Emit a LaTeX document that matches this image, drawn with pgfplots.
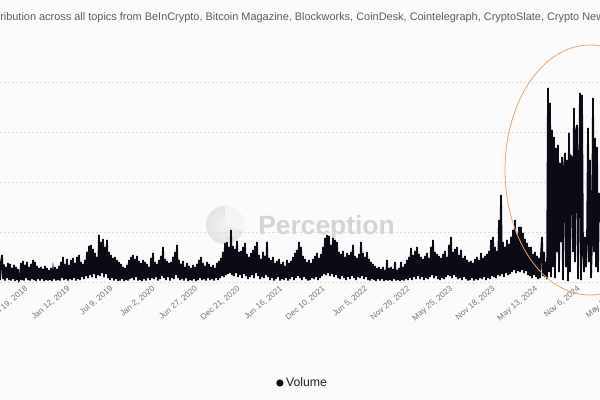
\documentclass[border=0pt]{standalone}
\usepackage{fontspec}
\setmainfont{Liberation Sans}
\usepackage{pgfplots}
\pgfplotsset{compat=1.18}
\definecolor{bg}{HTML}{FBFBFC}
\definecolor{gridc}{HTML}{DCDCDE}
\definecolor{tickc}{HTML}{74747A}
\definecolor{ttl}{HTML}{5C5C60}
\definecolor{ln}{HTML}{0B0B16}
\definecolor{circ}{HTML}{E8A56B}
\definecolor{wm}{HTML}{D4D4D6}
\begin{document}
\begin{tikzpicture}
\path[use as bounding box] (0pt,0pt) rectangle (450pt,300pt);
\clip (0pt,0pt) rectangle (450pt,300pt);
\fill[bg] (0pt,0pt) rectangle (450pt,300pt);
% title
\node[anchor=base west, inner sep=0pt, text=ttl, font=\fontsize{8.2}{9}\selectfont] at (0pt,284.25pt)
 {\llap{Volume dist}ribution across all topics from BeInCrypto, Bitcoin Magazine, Blockworks, CoinDesk, Cointelegraph, CryptoSlate, Crypto News};
% watermark
\shade[inner color=gray!10, outer color=gray!22] (168.75pt,131.25pt) circle (14.25pt);
\fill[gray!8] (168.75pt,131.25pt) -- (168.75pt,145.5pt) arc (90:-20:14.25pt) -- cycle;
\node[anchor=base west, inner sep=0pt, text=wm, font=\fontsize{19.8}{22}\selectfont\bfseries] at (193.5pt,123.75pt) {Perception};
\begin{axis}[
  at={(0pt,88.5pt)}, anchor=south west,
  scale only axis, width=480pt, height=187.5pt,
  xmin=0, xmax=640, ymin=0, ymax=500,
  axis line style={draw=none},
  major tick length=0pt,
  ytick={0,100,200,300,400}, yticklabels={},
  ymajorgrids, grid style={gridc, line width=0.5pt, dash pattern=on 1.5pt off 1.5pt},
  xtick={24.5,67,109.5,152,194.5,237,279.5,322,364.5,407,449.5,492,534.5,577,619.5},
  xticklabels={{Jul 19, 2018},{Jan 12, 2019},{Jul 9, 2019},{Jan 2, 2020},{Jun 27, 2020},{Dec 21, 2020},{Jun 16, 2021},{Dec 10, 2021},{Jun 5, 2022},{Nov 29, 2022},{May 25, 2023},{Nov 18, 2023},{May 13, 2024},{Nov 6, 2024},{May 2, 2025}},
  xticklabel style={rotate=40, anchor=north east, inner sep=1.5pt, text=tickc, font=\fontsize{6.1}{7}\selectfont},
  legend style={at={(axis cs:303,-202)}, anchor=center, draw=none, fill=none, font=\fontsize{9.2}{10}\selectfont, text=black!88},
  legend image code/.code={\fill[ln] (0pt,0pt) circle (2pt);},
]
\addplot[ln, line width=1.3pt] table[row sep=\\, header=false, x expr=\coordindex, y index=0] {
4\\40\\54\\6\\35\\3\\30\\8\\38\\4\\
36\\3\\28\\6\\34\\2\\30\\4\\26\\3\\
6\\38\\4\\42\\3\\34\\8\\40\\4\\30\\
3\\36\\6\\44\\4\\40\\2\\32\\6\\28\\
3\\30\\6\\26\\2\\32\\4\\28\\3\\24\\
4\\28\\2\\24\\6\\30\\3\\26\\4\\32\\
3\\40\\8\\50\\4\\36\\6\\46\\3\\34\\
6\\44\\4\\48\\8\\38\\3\\50\\6\\54\\
4\\40\\10\\36\\6\\44\\12\\60\\8\\72\\
14\\74\\10\\66\\16\\58\\8\\50\\14\\94\\
12\\80\\18\\86\\10\\70\\16\\84\\8\\60\\
4\\54\\8\\48\\3\\50\\6\\44\\2\\40\\
3\\36\\6\\30\\2\\28\\4\\34\\3\\44\\
6\\50\\8\\54\\4\\46\\10\\52\\3\\42\\
4\\38\\2\\44\\6\\40\\3\\36\\8\\30\\
4\\48\\8\\58\\6\\40\\10\\36\\3\\44\\
6\\52\\12\\70\\8\\46\\4\\42\\10\\38\\
3\\40\\8\\50\\6\\60\\14\\74\\8\\44\\
4\\36\\6\\42\\3\\30\\8\\38\\2\\32\\
4\\28\\3\\34\\6\\30\\2\\36\\4\\44\\
8\\50\\4\\38\\6\\32\\3\\40\\8\\36\\
4\\30\\6\\34\\3\\28\\8\\38\\4\\42\\
8\\48\\12\\60\\10\\78\\14\\80\\16\\70\\
18\\104\\14\\72\\12\\66\\18\\82\\10\\60\\
14\\62\\8\\70\\16\\78\\12\\56\\6\\50\\
10\\58\\14\\64\\8\\72\\18\\80\\12\\54\\
6\\46\\10\\60\\8\\52\\14\\80\\10\\48\\
4\\44\\8\\50\\3\\38\\6\\42\\10\\46\\
3\\36\\6\\40\\4\\32\\8\\44\\3\\38\\
6\\42\\10\\50\\4\\58\\8\\64\\12\\80\\
8\\70\\4\\52\\10\\46\\6\\40\\3\\44\\
4\\38\\8\\46\\6\\52\\10\\58\\4\\48\\
8\\56\\12\\70\\16\\88\\14\\94\\18\\92\\
12\\74\\16\\88\\10\\84\\14\\80\\8\\60\\
6\\56\\12\\62\\8\\50\\4\\58\\10\\54\\
6\\60\\12\\74\\8\\52\\4\\48\\10\\56\\
8\\80\\12\\58\\6\\50\\10\\60\\4\\46\\
3\\40\\6\\36\\4\\32\\2\\28\\6\\30\\
3\\26\\6\\30\\2\\24\\4\\44\\3\\28\\
4\\30\\2\\26\\6\\40\\3\\24\\4\\28\\
2\\40\\4\\30\\3\\36\\6\\44\\4\\50\\
8\\68\\4\\54\\10\\62\\6\\70\\12\\56\\
6\\50\\10\\46\\4\\52\\8\\58\\6\\48\\
10\\70\\14\\84\\8\\60\\12\\56\\6\\52\\
4\\48\\8\\56\\6\\62\\10\\50\\14\\74\\
12\\90\\8\\60\\14\\66\\10\\70\\6\\54\\
8\\64\\4\\48\\10\\52\\6\\44\\3\\40\\
4\\42\\8\\38\\3\\46\\6\\50\\4\\44\\
8\\58\\6\\48\\10\\52\\4\\56\\8\\62\\
6\\84\\12\\90\\10\\70\\8\\62\\14\\124\\
12\\174\\16\\80\\10\\70\\18\\84\\14\\76\\
16\\90\\20\\104\\24\\124\\18\\96\\22\\110\\
20\\110\\24\\98\\18\\86\\22\\78\\14\\70\\
12\\70\\8\\56\\14\\60\\10\\52\\6\\48\\
8\\56\\90\\12\\60\\10\\40\\6\\388\\20\\
358\\10\\304\\30\\290\\8\\268\\60\\274\\20\\
238\\80\\250\\4\\230\\258\\30\\244\\2\\298\\
20\\252\\250\\60\\348\\40\\300\\314\\6\\200\\
378\\4\\374\\60\\20\\90\\30\\80\\308\\40\\
244\\8\\80\\368\\60\\288\\30\\270\\20\\178\\
120\\
};
\addlegendentry{Volume}
\end{axis}
\draw[circ, line width=0.6pt] (442.5pt,172.5pt) ellipse [x radius=63.75pt, y radius=93.75pt];
\end{tikzpicture}
\end{document}
